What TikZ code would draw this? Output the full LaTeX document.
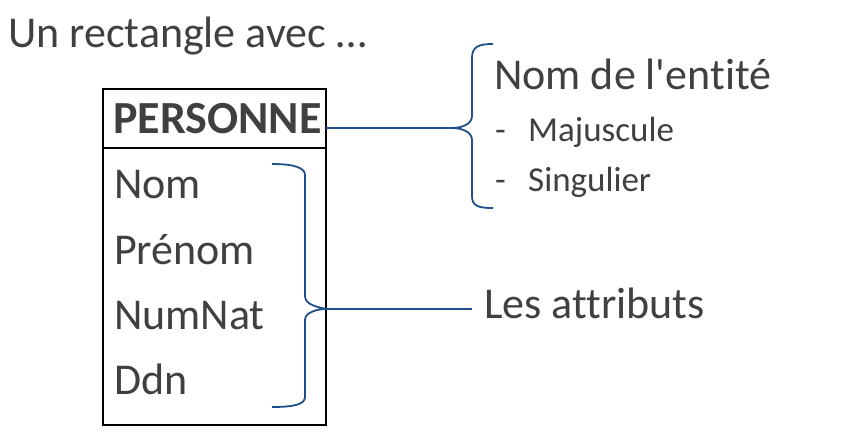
\documentclass[tikz,border=0pt]{standalone}
\usepackage{fontspec}
\setmainfont{Carlito}[Ligatures={TeXOff,CommonOff}]
\definecolor{txt}{RGB}{64,64,64}
\definecolor{brc}{RGB}{31,78,140}
\begin{document}
\begin{tikzpicture}[x=1pt,y=-1pt,
  lbl/.style={anchor=base west,inner sep=0pt,text=txt,font=\fontsize{44}{50}\selectfont},
  sub/.style={anchor=base west,inner sep=0pt,text=txt,font=\fontsize{35}{40}\selectfont},
  brace/.style={draw=brc,line width=1.8pt},
  box/.style={draw=black,line width=2.6pt}]
\useasboundingbox (0,0) rectangle (865,441);
\node[lbl] (title) at (8,48) {Un rectangle avec …};
% entity box
\coordinate (boxtl) at (103,89);
\coordinate (boxbr) at (326,425);
\draw[box] (boxtl) rectangle (boxbr);
\coordinate (hl) at (103,148);
\coordinate (hr) at (326,148);
\draw[box] (hl) -- (hr);
\node[lbl,font=\fontsize{46}{50}\selectfont\bfseries] (ent) at (113,134) {PERSONNE};
\node[lbl] (a1) at (114,198) {Nom};
\node[lbl] (a2) at (114,264) {Prénom};
\node[lbl] (a3) at (114,329) {NumNat};
\node[lbl] (a4) at (114,394) {Ddn};
% right texts
\node[lbl] (nom) at (494,90) {Nom de l'entité};
\node[sub] (d1) at (495,142) {-};
\node[sub] (m) at (528,142) {Majuscule};
\node[sub] (d2) at (495,192) {-};
\node[sub] (s) at (528,192) {Singulier};
\node[lbl] (les) at (484,318) {Les attributs};
% brace 1
\coordinate (b1tip) at (452,128);
\coordinate (b1start) at (326,128);
\draw[brace] (b1start) -- (b1tip);
\draw[brace] (493,44) .. controls (478,44) and (472,47) .. (472,58)
  -- (472,116) .. controls (472,124) and (462,128) .. (b1tip)
  .. controls (462,128) and (472,132) .. (472,140)
  -- (472,196) .. controls (472,206) and (478,208) .. (493,208);
% brace 2
\coordinate (b2tip) at (326,309);
\coordinate (b2end) at (472,309);
\draw[brace] (b2tip) -- (b2end);
\draw[brace] (272,164) .. controls (295,164) and (305,168) .. (305,175)
  -- (305,296) .. controls (305,305) and (318,307) .. (b2tip)
  .. controls (318,309) and (305,312) .. (305,320)
  -- (305,397) .. controls (305,404) and (295,407) .. (272,407);
\end{tikzpicture}
\end{document}
